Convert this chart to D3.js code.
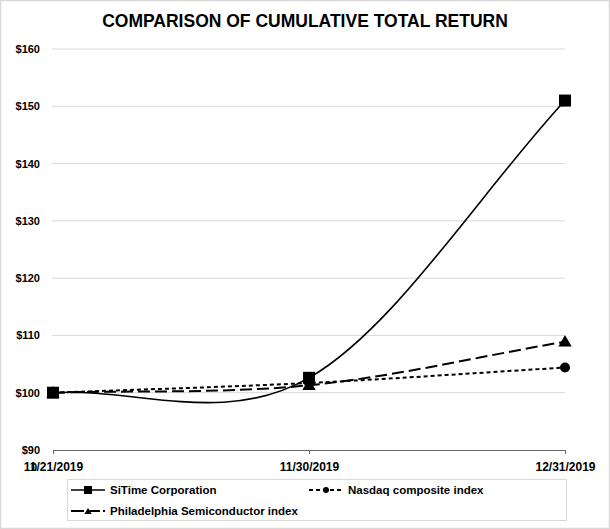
<!DOCTYPE html>
<html><head><meta charset="utf-8">
<script src="https://cdn.jsdelivr.net/npm/d3@7"></script>
<style>
html,body{margin:0;padding:0;background:#fff;}
svg{display:block;font-family:"Liberation Sans",Arial,sans-serif;}
</style></head>
<body>
<svg id="c" width="610" height="529"></svg>
<script>
const dates = ["11/21/2019", "11/30/2019", "12/31/2019"];
const sitime = [100, 102.6, 151.0];
const nasdaq = [100, 101.7, 104.4];
const sox = [100, 101.3, 108.9];
const yTicks = [90, 100, 110, 120, 130, 140, 150, 160];
const seriesNames = ["SiTime Corporation", "Nasdaq composite index", "Philadelphia Semiconductor index"];
const title = "COMPARISON OF CUMULATIVE TOTAL RETURN";

const svg = d3.select("#c");
const W = 610, H = 529;
svg.append("rect").attr("x",0.5).attr("y",0.5).attr("width",W-1).attr("height",H-1)
  .attr("fill","#fff").attr("stroke","#d9d9d9").attr("stroke-width",1.5);

svg.append("text").attr("x",305).attr("y",27).attr("text-anchor","middle")
  .attr("font-size",17.5).attr("font-weight","bold").attr("fill","#000").text(title);

const x = d3.scalePoint().domain(dates).range([53, 565]);
const y = d3.scaleLinear().domain([90, 160]).range([450, 49]);

// gridlines
svg.append("g").selectAll("line").data(yTicks.filter(d=>d>90)).join("line")
  .attr("x1",52).attr("x2",565).attr("y1",d=>y(d)).attr("y2",d=>y(d))
  .attr("stroke","#d9d9d9").attr("stroke-width",1);

// y labels
svg.append("g").selectAll("text").data(yTicks).join("text")
  .attr("x",40).attr("y",d=>y(d)+4).attr("text-anchor","end")
  .attr("font-size",11).attr("font-weight","bold").text(d=>"$"+d);

// x axis
const xa = svg.append("g").attr("transform","translate(0,450)")
  .call(d3.axisBottom(x).tickSize(4).tickPadding(6).tickFormat(d=>d));
xa.select(".domain").attr("stroke","#666").attr("d","M53,0.5H565");
xa.selectAll(".tick line").attr("stroke","#666");
xa.selectAll(".tick text").attr("font-size",12).attr("font-weight","bold")
  .attr("font-family","Liberation Sans, Arial, sans-serif").attr("fill","#000").attr("dy","0.9em");
// stray overlapping character on the first label (as in the reference)
svg.append("text").attr("x",34).attr("y",471).attr("text-anchor","middle")
  .attr("font-size",11).attr("font-weight","bold").text("0");

// Excel-style smoothed line: interior tangents (P[i+1]-P[i-1])/6, end controls at 1/3 of the chord
function smoothPath(vals) {
  const pts = vals.map((v,i) => [x(dates[i]), y(v)]);
  const p = d3.path();
  p.moveTo(pts[0][0], pts[0][1]);
  const n = pts.length;
  for (let i = 0; i < n-1; i++) {
    const a = pts[i], b = pts[i+1];
    let c1, c2;
    if (i === 0) c1 = [a[0] + (b[0]-a[0])/3, a[1] + (b[1]-a[1])/3];
    else { const pr = pts[i-1]; c1 = [a[0] + (b[0]-pr[0])/6, a[1] + (b[1]-pr[1])/6]; }
    if (i+1 === n-1) c2 = [b[0] - (b[0]-a[0])/3, b[1] - (b[1]-a[1])/3];
    else { const nx = pts[i+2]; c2 = [b[0] - (nx[0]-a[0])/6, b[1] - (nx[1]-a[1])/6]; }
    p.bezierCurveTo(c1[0], c1[1], c2[0], c2[1], b[0], b[1]);
  }
  return p.toString();
}

const styles = [
  {data: sitime, dash: null, w: 1.6, marker: "square"},
  {data: nasdaq, dash: "4,3", w: 2, marker: "circle"},
  {data: sox, dash: "12,5", w: 2, marker: "triangle"}
];

function drawMarker(g, type, cx, cy, s) {
  if (type === "square") {
    g.append("rect").attr("x",cx-s/2).attr("y",cy-s/2).attr("width",s).attr("height",s).attr("fill","#000");
  } else if (type === "circle") {
    g.append("circle").attr("cx",cx).attr("cy",cy).attr("r",s/2).attr("fill","#000");
  } else {
    g.append("path").attr("d",d3.symbol(d3.symbolTriangle, s*s*0.45)()).attr("transform",`translate(${cx},${cy+1})`).attr("fill","#000");
  }
}

const lg = svg.append("g");
styles.slice().reverse().forEach(s => {
  lg.append("path").attr("d", smoothPath(s.data)).attr("fill","none").attr("stroke","#000")
    .attr("stroke-width", s.w).attr("stroke-dasharray", s.dash);
});
styles.slice().reverse().forEach(s => {
  s.data.forEach((v,i) => drawMarker(lg, s.marker, x(dates[i]), y(v), s.marker==="square"?12:(s.marker==="circle"?10:13)));
});

// legend
const leg = svg.append("g");
leg.append("rect").attr("x",67.5).attr("y",479.5).attr("width",499).attr("height",41)
  .attr("fill","#fff").attr("stroke","#d9d9d9");
const legItems = [
  {name: seriesNames[0], x0: 71, y0: 490, s: styles[0]},
  {name: seriesNames[1], x0: 309, y0: 490, s: styles[1]},
  {name: seriesNames[2], x0: 71, y0: 511, s: styles[2]}
];
legItems.forEach(it => {
  leg.append("line").attr("x1",it.x0).attr("x2",it.x0+34).attr("y1",it.y0).attr("y2",it.y0)
    .attr("stroke","#000").attr("stroke-width",it.s.w)
    .attr("stroke-dasharray", it.s.marker==="triangle" ? "13,3" : it.s.dash);
  drawMarker(leg, it.s.marker, it.x0+17, it.y0, it.s.marker==="square"?8:(it.s.marker==="circle"?6:7));
  leg.append("text").attr("x",it.x0+39).attr("y",it.y0+4).attr("font-size",11.5)
    .attr("font-weight","bold").text(it.name);
});
</script>
</body></html>
